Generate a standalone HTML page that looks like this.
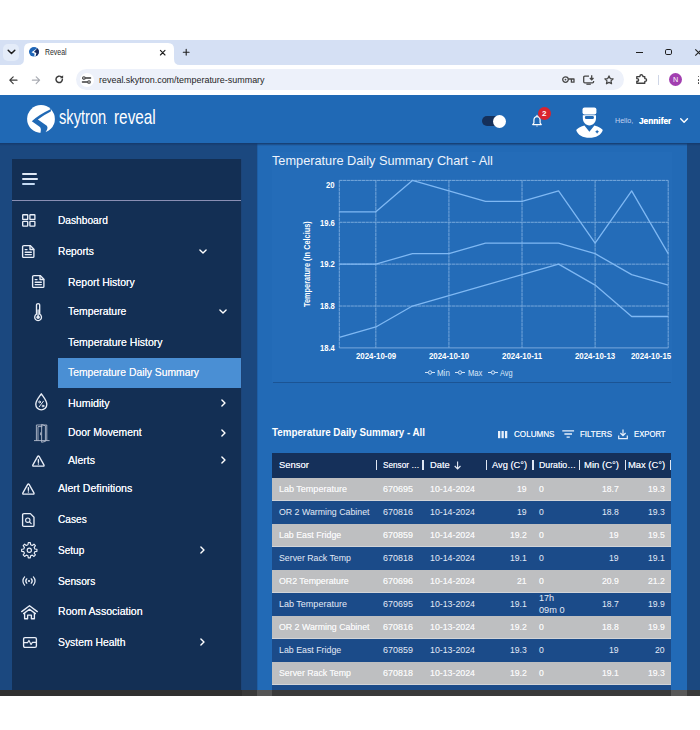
<!DOCTYPE html>
<html>
<head>
<meta charset="utf-8">
<title>Reveal</title>
<style>
*{box-sizing:border-box;margin:0;padding:0}
html,body{width:700px;height:730px;overflow:hidden;background:#fff;font-family:"Liberation Sans",sans-serif;}
.abs{position:absolute}
#root{position:relative;width:700px;height:730px;overflow:hidden;background:#fff}
.t{position:absolute;white-space:nowrap;color:#fff;line-height:1;transform-origin:0 50%;}
svg{overflow:visible}
</style>
</head>
<body>
<div id="root">
<div class="abs" style="left:0px;top:40px;width:700px;height:25px;background:#d5e0f4;"></div>
<div class="abs" style="left:0px;top:65px;width:700px;height:30px;background:#fff;"></div>
<div class="abs" style="left:0px;top:95px;width:700px;height:48px;background:#2069b5;"></div>
<div class="abs" style="left:0px;top:143px;width:700px;height:547px;background:#1b487f;"></div>
<div class="abs" style="left:11.6px;top:158.5px;width:230.2px;height:531.5px;background:#132f54;"></div>
<div class="abs" style="left:257px;top:143px;width:430px;height:547px;background:#226ab6;"></div>
<div class="abs" style="left:271.6px;top:152px;width:400px;height:230px;background:#246cb8;"></div>
<div class="abs" style="left:257px;top:143px;width:1px;height:547px;background:#1d5ea6;"></div>
<div class="abs" style="left:0px;top:143px;width:700px;height:3px;background:linear-gradient(#153a6c,rgba(21,58,108,0));"></div>
<div class="abs" style="left:0px;top:690px;width:700px;height:6px;background:#333;"></div>
<div class="abs" style="left:3px;top:44px;width:16px;height:17px;background:#e4ecf9;border-radius:5px"></div>
<svg class="abs" style="left:7px;top:49px;" width="9" height="6" viewBox="0 0 9 6"><path d="M1.2 1.2 L4.5 4.5 L7.8 1.2" fill="none" stroke="#1f1f1f" stroke-width="1.5" stroke-linecap="round" stroke-linejoin="round"/></svg>
<svg class="abs" style="left:18px;top:43px" width="164" height="22" viewBox="0 0 164 22"><path d="M0 22 Q6 22 6 16 L6 6 Q6 0 12 0 L150 0 Q156 0 156 6 L156 16 Q156 22 162 22 Z" fill="#fff"/></svg>
<svg class="abs" style="left:29.4px;top:47.2px;" width="10" height="9.6" viewBox="0 0 10 9.6"><ellipse cx="5" cy="4.8" rx="5" ry="4.8" fill="#1e66b8"/><path d="M8.3 1.2 L4.6 4.9 L7.2 6.2 L6.4 9.3 A5 4.8 0 0 0 8.3 1.2 Z" fill="#1a2c5e"/><path d="M8.5 1.1 L2.5 5.3 L5.6 6.8 L5.2 9.4 L6.6 8.9 L7.4 6.1 L4.9 4.9 Z" fill="#fff"/></svg>
<span class="t" style="left:45.00px;top:52.40px;font-size:8.8px;color:#2a2a2a;transform:translateY(-50%) scaleX(0.7885);">Reveal</span>
<svg class="abs" style="left:160px;top:49.5px;" width="5.4" height="5.4" viewBox="0 0 5.4 5.4"><path d="M0.4 0.4 L5 5 M5 0.4 L0.4 5" stroke="#1f1f1f" stroke-width="1.1" stroke-linecap="round"/></svg>
<svg class="abs" style="left:182.5px;top:49px;" width="6.4" height="6.4" viewBox="0 0 6.4 6.4"><path d="M3.2 0.3 V6.1 M0.3 3.2 H6.1" stroke="#1f1f1f" stroke-width="1.1" stroke-linecap="round"/></svg>
<div class="abs" style="left:636.4px;top:51.5px;width:6.2px;height:1.3px;background:#1f1f1f;"></div>
<div class="abs" style="left:665.3px;top:48.7px;width:6.8px;height:6.8px;background:transparent;border:1.4px solid #1f1f1f;border-radius:1.8px"></div>
<svg class="abs" style="left:694.5px;top:48.7px;" width="7" height="7" viewBox="0 0 7 7"><path d="M0.3 0.3 L6.7 6.7 M6.7 0.3 L0.3 6.7" stroke="#1f1f1f" stroke-width="1.1"/></svg>
<svg class="abs" style="left:8.8px;top:75.6px;" width="8.4" height="8.4" viewBox="0 0 8.4 8.4"><path d="M8 4.2 H1 M4.2 0.8 L0.8 4.2 L4.2 7.6" fill="none" stroke="#3c3c3c" stroke-width="1.2" stroke-linecap="round" stroke-linejoin="round"/></svg>
<svg class="abs" style="left:31.6px;top:75.6px;" width="8.4" height="8.4" viewBox="0 0 8.4 8.4"><path d="M0.4 4.2 H7.4 M4.2 0.8 L7.6 4.2 L4.2 7.6" fill="none" stroke="#a9acb3" stroke-width="1.2" stroke-linecap="round" stroke-linejoin="round"/></svg>
<svg class="abs" style="left:54.8px;top:75.2px;" width="8.6" height="8.6" viewBox="0 0 8.6 8.6"><path d="M7.4 4.3 A3.2 3.2 0 1 1 6.3 1.9" fill="none" stroke="#3c3c3c" stroke-width="1.45" stroke-linecap="round"/><path d="M8.1 0.2 V3.3 H5 Z" fill="#3c3c3c"/></svg>
<div class="abs" style="left:76px;top:69px;width:548px;height:21px;background:#edf1fa;border-radius:10.5px"></div>
<div class="abs" style="left:79.5px;top:73px;width:14px;height:14px;background:#fff;border-radius:7px"></div>
<svg class="abs" style="left:82px;top:75.6px;" width="9" height="8" viewBox="0 0 9 8"><path d="M3.6 2 H8.6 M0.4 6 H5.2" stroke="#3c3c3c" stroke-width="1.3" stroke-linecap="round"/><circle cx="1.9" cy="2" r="1.3" fill="none" stroke="#3c3c3c" stroke-width="1.1"/><circle cx="7" cy="6" r="1.3" fill="none" stroke="#3c3c3c" stroke-width="1.1"/></svg>
<span class="t" style="left:99.00px;top:80.00px;font-size:9.4px;color:#1f1f1f;transform:translateY(-50%) scaleX(0.9543);">reveal.skytron.com/temperature-summary</span>
<svg class="abs" style="left:562px;top:76px;" width="12.6" height="7.4" viewBox="0 0 12.6 7.4"><circle cx="3.5" cy="3.6" r="2.8" fill="none" stroke="#474747" stroke-width="1.3"/><circle cx="3.5" cy="3.6" r="0.9" fill="#474747"/><path d="M6.3 3 H12 V6.2 H9.4 V3.2" fill="none" stroke="#474747" stroke-width="1.3" stroke-linejoin="round"/></svg>
<svg class="abs" style="left:583.2px;top:74.8px;" width="11.4" height="9.8" viewBox="0 0 11.4 9.8"><path d="M6 1.2 H1.8 Q0.7 1.2 0.7 2.3 V6.7 Q0.7 7.8 1.8 7.8 H9.5 Q10.6 7.8 10.6 6.7 V6" fill="none" stroke="#474747" stroke-width="1.3"/><path d="M3.4 9.2 H7.8" stroke="#474747" stroke-width="1.3"/><path d="M8.7 0.2 V4.6 M6.9 3 L8.7 4.8 L10.5 3" fill="none" stroke="#474747" stroke-width="1.3"/></svg>
<svg class="abs" style="left:604.3px;top:75px;" width="10" height="9.6" viewBox="0 0 10 9.6"><path d="M5 0.9 L6.25 3.55 L9.15 3.9 L7.0 5.9 L7.55 8.75 L5 7.35 L2.45 8.75 L3.0 5.9 L0.85 3.9 L3.75 3.55 Z" fill="none" stroke="#474747" stroke-width="1.25" stroke-linejoin="round"/></svg>
<svg class="abs" style="left:636px;top:74.2px;" width="11.2" height="10" viewBox="0 0 11.2 10"><path d="M0.8 2.6 H3.9 V2.2 A1.5 1.5 0 0 1 6.9 2.2 V2.6 H8.8 V4.6 H9.2 A1.4 1.4 0 0 1 9.2 7.4 H8.8 V9.3 H0.8 V7.3 H1.3 A1.3 1.3 0 0 0 1.3 4.7 H0.8 Z" fill="none" stroke="#3f3f3f" stroke-width="1.35" stroke-linejoin="round"/></svg>
<div class="abs" style="left:658px;top:75px;width:1px;height:9.5px;background:#cfd6e6;"></div>
<div class="abs" style="left:669px;top:73.2px;width:13px;height:13px;background:#a23fb0;border-radius:50%"></div>
<span class="t" style="left:672.90px;top:79.80px;font-size:7.2px;color:#fff;transform:translateY(-50%) scaleX(1.0000);">N</span>
<div class="abs" style="left:697.8px;top:75.6px;width:1.6px;height:1.6px;background:#3c3c3c;border-radius:50%"></div>
<div class="abs" style="left:697.8px;top:79px;width:1.6px;height:1.6px;background:#3c3c3c;border-radius:50%"></div>
<div class="abs" style="left:697.8px;top:82.4px;width:1.6px;height:1.6px;background:#3c3c3c;border-radius:50%"></div>
<svg class="abs" style="left:26.7px;top:104.5px;" width="28" height="28" viewBox="0 0 28 28"><circle cx="14" cy="14" r="13.9" fill="#fff"/><path d="M24 4.0 Q12 9.6 4.8 16.2 L12.6 21.8 Q14.8 23.4 13.2 29 L17.4 28.8 Q22 23.2 19.8 20.8 L10.9 14.4 Q16 10.4 23.8 6.5 Z" fill="#2069b5"/></svg>
<span class="t" style="left:58.60px;top:117.40px;font-size:20.2px;color:#fff;transform:translateY(-50%) scaleX(0.7249);">skytron</span>
<span class="t" style="left:113.60px;top:117.40px;font-size:20.2px;color:#fff;transform:translateY(-50%) scaleX(0.7597);">reveal</span>
<div class="abs" style="left:106.3px;top:122.6px;width:1px;height:1px;background:#cfe0f5;"></div>
<div class="abs" style="left:481.5px;top:116.3px;width:23.5px;height:10px;background:#15305a;border-radius:5px"></div>
<div class="abs" style="left:492.5px;top:114.8px;width:13px;height:13px;background:#fff;border-radius:50%"></div>
<svg class="abs" style="left:532px;top:115px;" width="10" height="12.6" viewBox="0 0 10 12.6"><path d="M5 0.4 V1.6 M5 1.6 C3 1.6 1.9 3.2 1.9 5.2 V8 L0.7 9.6 H9.3 L8.1 8 V5.2 C8.1 3.2 7 1.6 5 1.6 Z" fill="none" stroke="#fff" stroke-width="1.2" stroke-linejoin="round" stroke-linecap="round"/><path d="M3.9 10.8 A1.2 1.2 0 0 0 6.1 10.8 Z" fill="#fff"/></svg>
<div class="abs" style="left:537.6px;top:107.4px;width:13px;height:13px;background:#d9232e;border-radius:50%"></div>
<span class="t" style="left:541.88px;top:114.00px;font-size:8px;color:#fff;font-weight:bold;transform:translateY(-50%) scaleX(1.0000);">2</span>
<svg class="abs" style="left:576.4px;top:107.4px;" width="27" height="31" viewBox="0 0 27 31"><rect x="6.5" y="0.5" width="13.9" height="7.1" rx="2" fill="#fff"/><path d="M6.8 8.2 H20 V11 C20 15.4 17 18.4 13.4 18.4 C9.8 18.4 6.8 15.4 6.8 11 Z" fill="#fff"/><rect x="8.9" y="9" width="9" height="3" rx="1.2" fill="#2069b5"/><path d="M8.4 18.4 C4 19.6 1 21.4 0.2 23 C1.5 28 7 30.8 13.4 30.8 C19.8 30.8 25.5 28 26.8 23 C26 21.4 23 19.6 18.4 18.4 L13.4 24.8 Z" fill="#fff"/><path d="M21.1 22.7 L21.8 24 L23.1 24.7 L21.8 25.4 L21.1 26.7 L20.4 25.4 L19.1 24.7 L20.4 24 Z" fill="#2069b5"/></svg>
<span class="t" style="left:615.30px;top:121.30px;font-size:8px;color:#c6d3ef;transform:translateY(-50%) scaleX(0.8898);">Hello,</span>
<span class="t" style="left:639.20px;top:121.10px;font-size:9.4px;color:#fff;font-weight:bold;transform:translateY(-50%) scaleX(0.8833);text-shadow:0 0 0.5px #fff;">Jennifer</span>
<svg class="abs" style="left:679.6px;top:118px;" width="8.2" height="5.2" viewBox="0 0 8.2 5.2"><path d="M0.7 0.8 L4.1 4.2 L7.5 0.8" fill="none" stroke="#fff" stroke-width="1.4" stroke-linecap="round" stroke-linejoin="round"/></svg>
<div class="abs" style="left:22px;top:173.2px;width:15.2px;height:1.6px;background:#dfe8f5;border-radius:1px"></div>
<div class="abs" style="left:22px;top:178.4px;width:16.2px;height:1.6px;background:#dfe8f5;border-radius:1px"></div>
<div class="abs" style="left:22px;top:183.3px;width:13.2px;height:1.8px;background:#c4daf3;border-radius:1px"></div>
<div class="abs" style="left:11.6px;top:199.6px;width:230.2px;height:1.5px;background:#8a8fb4;"></div>
<div class="abs" style="left:57.5px;top:357.7px;width:184px;height:30px;background:#4a8fd4;"></div>
<div class="abs" style="left:240.8px;top:158.5px;width:1px;height:531.5px;background:#1d4478;"></div>
<span class="t" style="left:57.80px;top:220.20px;font-size:11px;color:#f4f6fb;transform:translateY(-50%) scaleX(0.9254);text-shadow:0 0 0.4px #f4f6fb;">Dashboard</span>
<span class="t" style="left:57.80px;top:251.30px;font-size:11px;color:#f4f6fb;transform:translateY(-50%) scaleX(0.9295);text-shadow:0 0 0.4px #f4f6fb;">Reports</span>
<span class="t" style="left:67.70px;top:281.50px;font-size:11px;color:#f4f6fb;transform:translateY(-50%) scaleX(0.9488);text-shadow:0 0 0.4px #f4f6fb;">Report History</span>
<span class="t" style="left:67.70px;top:311.40px;font-size:11px;color:#f4f6fb;transform:translateY(-50%) scaleX(0.9457);text-shadow:0 0 0.4px #f4f6fb;">Temperature</span>
<span class="t" style="left:67.70px;top:341.50px;font-size:11px;color:#f4f6fb;transform:translateY(-50%) scaleX(0.9542);text-shadow:0 0 0.4px #f4f6fb;">Temperature History</span>
<span class="t" style="left:67.70px;top:372.30px;font-size:11px;color:#f4f6fb;transform:translateY(-50%) scaleX(0.9399);text-shadow:0 0 0.4px #f4f6fb;">Temperature Daily Summary</span>
<span class="t" style="left:67.70px;top:402.80px;font-size:11px;color:#f4f6fb;transform:translateY(-50%) scaleX(0.9746);text-shadow:0 0 0.4px #f4f6fb;">Humidity</span>
<span class="t" style="left:67.70px;top:432.40px;font-size:11px;color:#f4f6fb;transform:translateY(-50%) scaleX(0.9405);text-shadow:0 0 0.4px #f4f6fb;">Door Movement</span>
<span class="t" style="left:67.70px;top:460.00px;font-size:11px;color:#f4f6fb;transform:translateY(-50%) scaleX(0.9602);text-shadow:0 0 0.4px #f4f6fb;">Alerts</span>
<span class="t" style="left:57.80px;top:487.90px;font-size:11px;color:#f4f6fb;transform:translateY(-50%) scaleX(0.9645);text-shadow:0 0 0.4px #f4f6fb;">Alert Definitions</span>
<span class="t" style="left:57.80px;top:518.90px;font-size:11px;color:#f4f6fb;transform:translateY(-50%) scaleX(0.9205);text-shadow:0 0 0.4px #f4f6fb;">Cases</span>
<span class="t" style="left:57.80px;top:549.70px;font-size:11px;color:#f4f6fb;transform:translateY(-50%) scaleX(0.9149);text-shadow:0 0 0.4px #f4f6fb;">Setup</span>
<span class="t" style="left:57.80px;top:580.60px;font-size:11px;color:#f4f6fb;transform:translateY(-50%) scaleX(0.9243);text-shadow:0 0 0.4px #f4f6fb;">Sensors</span>
<span class="t" style="left:57.80px;top:610.80px;font-size:11px;color:#f4f6fb;transform:translateY(-50%) scaleX(0.9609);text-shadow:0 0 0.4px #f4f6fb;">Room Association</span>
<span class="t" style="left:57.80px;top:641.70px;font-size:11px;color:#f4f6fb;transform:translateY(-50%) scaleX(0.9423);text-shadow:0 0 0.4px #f4f6fb;">System Health</span>
<svg class="abs" style="left:198.5px;top:249.0px;" width="8" height="5.2" viewBox="0 0 8 5.2"><path d="M0.9 0.9 L4 4 L7.1 0.9" fill="none" stroke="#fff" stroke-width="1.4" stroke-linecap="round" stroke-linejoin="round"/></svg>
<svg class="abs" style="left:219px;top:309.4px;" width="8" height="5.2" viewBox="0 0 8 5.2"><path d="M0.9 0.9 L4 4 L7.1 0.9" fill="none" stroke="#fff" stroke-width="1.4" stroke-linecap="round" stroke-linejoin="round"/></svg>
<svg class="abs" style="left:220.8px;top:399.4px;" width="5.2" height="8" viewBox="0 0 5.2 8"><path d="M0.9 0.9 L4 4 L0.9 7.1" fill="none" stroke="#fff" stroke-width="1.4" stroke-linecap="round" stroke-linejoin="round"/></svg>
<svg class="abs" style="left:220.8px;top:429px;" width="5.2" height="8" viewBox="0 0 5.2 8"><path d="M0.9 0.9 L4 4 L0.9 7.1" fill="none" stroke="#fff" stroke-width="1.4" stroke-linecap="round" stroke-linejoin="round"/></svg>
<svg class="abs" style="left:220.8px;top:456.4px;" width="5.2" height="8" viewBox="0 0 5.2 8"><path d="M0.9 0.9 L4 4 L0.9 7.1" fill="none" stroke="#fff" stroke-width="1.4" stroke-linecap="round" stroke-linejoin="round"/></svg>
<svg class="abs" style="left:200.4px;top:546.2px;" width="5.2" height="8" viewBox="0 0 5.2 8"><path d="M0.9 0.9 L4 4 L0.9 7.1" fill="none" stroke="#fff" stroke-width="1.4" stroke-linecap="round" stroke-linejoin="round"/></svg>
<svg class="abs" style="left:200.4px;top:638px;" width="5.2" height="8" viewBox="0 0 5.2 8"><path d="M0.9 0.9 L4 4 L0.9 7.1" fill="none" stroke="#fff" stroke-width="1.4" stroke-linecap="round" stroke-linejoin="round"/></svg>
<svg class="abs" style="left:21.5px;top:214.3px;" width="13.6" height="12.8" viewBox="0 0 13.6 12.8"><g fill="none" stroke="#e9eef7" stroke-width="1.35" stroke-linejoin="round" stroke-linecap="round"><rect x="0.7" y="0.7" width="5" height="4.7" rx="0.5"/><rect x="7.9" y="0.7" width="5" height="4.7" rx="0.5"/><rect x="0.7" y="7.4" width="5" height="4.7" rx="0.5"/><rect x="7.9" y="7.4" width="5" height="4.7" rx="0.5"/></g></svg>
<svg class="abs" style="left:21.7px;top:245.2px;" width="12.5" height="13" viewBox="0 0 12.5 13"><g fill="none" stroke="#e9eef7" stroke-width="1.35" stroke-linejoin="round" stroke-linecap="round"><path d="M2 0.6 H8.2 L11.9 4.3 V11.4 Q11.9 12.4 10.9 12.4 H2 Q0.6 12.4 0.6 11.4 V1.6 Q0.6 0.6 2 0.6 Z"/><path d="M8 0.8 V4.5 H11.7"/><path d="M3.2 4.6 H5 M3.2 7.2 H9.3 M3.2 9.6 H9.3"/></g></svg>
<svg class="abs" style="left:32px;top:275.4px;" width="12.5" height="13" viewBox="0 0 12.5 13"><g fill="none" stroke="#e9eef7" stroke-width="1.35" stroke-linejoin="round" stroke-linecap="round"><path d="M2 0.6 H8.2 L11.9 4.3 V11.4 Q11.9 12.4 10.9 12.4 H2 Q0.6 12.4 0.6 11.4 V1.6 Q0.6 0.6 2 0.6 Z"/><path d="M8 0.8 V4.5 H11.7"/><path d="M3.2 4.6 H5 M3.2 7.2 H9.3 M3.2 9.6 H9.3"/></g></svg>
<svg class="abs" style="left:34.2px;top:303.2px;" width="8.2" height="18.4" viewBox="0 0 8.2 18.4"><g fill="none" stroke="#e9eef7" stroke-width="1.35" stroke-linejoin="round" stroke-linecap="round"><path d="M2.5 2.2 A1.6 1.6 0 0 1 5.7 2.2 V11.2 A3.4 3.4 0 1 1 2.5 11.2 Z"/><circle cx="4.1" cy="14.2" r="1.7" fill="#e9eef7" stroke="none"/><path d="M4.1 7 V13" stroke-width="1.3"/></g></svg>
<svg class="abs" style="left:34.6px;top:393.4px;" width="12.6" height="17.8" viewBox="0 0 12.6 17.8"><g fill="none" stroke="#e9eef7" stroke-width="1.35" stroke-linejoin="round" stroke-linecap="round"><path d="M6.3 0.8 C8.6 4.2 11.8 7.6 11.8 11.4 A5.5 5.5 0 0 1 0.8 11.4 C0.8 7.6 4 4.2 6.3 0.8 Z"/><g stroke-width="1"><circle cx="4.6" cy="9" r="0.9"/><circle cx="8" cy="13" r="0.9"/><path d="M8.4 8.2 L4.2 13.8"/></g></g></svg>
<svg class="abs" style="left:33.8px;top:424px;" width="15.6" height="18.6" viewBox="0 0 15.6 18.6"><g fill="none" stroke="#b4bccd" stroke-width="0.9" stroke-linejoin="round" stroke-linecap="round"><path d="M0.4 16.6 H15.2"/><path d="M2.4 16.4 V1 H12.8 V16.4"/><path d="M4 16.2 V2.6 H8"/><path d="M8 0.6 L11.4 1.8 V17.4 L8 18.2 Z"/><path d="M6.6 8.8 V10.8"/></g></svg>
<svg class="abs" style="left:31.6px;top:455.2px;" width="12.8" height="12" viewBox="0 0 12.8 12"><g fill="none" stroke="#e9eef7" stroke-width="1.35" stroke-linejoin="round" stroke-linecap="round"><path d="M5.7 1.4 Q6.4 0.3 7.1 1.4 L11.9 9.8 Q12.5 11.2 11.1 11.2 H1.7 Q0.3 11.2 0.9 9.8 Z"/><path d="M6.4 4.6 V7.2 M6.4 9 V9.1" stroke-width="1.4"/></g></svg>
<svg class="abs" style="left:21.6px;top:483px;" width="12.8" height="12" viewBox="0 0 12.8 12"><g fill="none" stroke="#e9eef7" stroke-width="1.35" stroke-linejoin="round" stroke-linecap="round"><path d="M5.7 1.4 Q6.4 0.3 7.1 1.4 L11.9 9.8 Q12.5 11.2 11.1 11.2 H1.7 Q0.3 11.2 0.9 9.8 Z"/><path d="M6.4 4.6 V7.2 M6.4 9 V9.1" stroke-width="1.4"/></g></svg>
<svg class="abs" style="left:21.6px;top:512.8px;" width="12.6" height="14" viewBox="0 0 12.6 14"><g fill="none" stroke="#e9eef7" stroke-width="1.35" stroke-linejoin="round" stroke-linecap="round"><path d="M2 0.6 H8.4 L12 4.2 V12.2 Q12 13.4 10.8 13.4 H2 Q0.6 13.4 0.6 12.2 V1.8 Q0.6 0.6 2 0.6 Z"/><circle cx="5.8" cy="7.2" r="2.2" stroke-width="1.1"/><path d="M7.5 8.9 L9.2 10.6" stroke-width="1.2"/></g></svg>
<svg class="abs" style="left:21.3px;top:542.2px;" width="16.6" height="16.6" viewBox="0 0 16.6 16.6"><g fill="none" stroke="#e9eef7" stroke-width="1.35" stroke-linejoin="round" stroke-linecap="round"><path d="M6.97 2.76 L7.27 0.67 L9.33 0.67 L9.63 2.76 L11.28 3.44 L12.97 2.18 L14.42 3.63 L13.16 5.32 L13.84 6.97 L15.93 7.27 L15.93 9.33 L13.84 9.63 L13.16 11.28 L14.42 12.97 L12.97 14.42 L11.28 13.16 L9.63 13.84 L9.33 15.93 L7.27 15.93 L6.97 13.84 L5.32 13.16 L3.63 14.42 L2.18 12.97 L3.44 11.28 L2.76 9.63 L0.67 9.33 L0.67 7.27 L2.76 6.97 L3.44 5.32 L2.18 3.63 L3.63 2.18 L5.32 3.44 Z" stroke-width="1.15"/><circle cx="8.3" cy="8.3" r="2.1" stroke-width="1.15"/></g></svg>
<svg class="abs" style="left:22.4px;top:575.6px;" width="14" height="10" viewBox="0 0 14 10"><g fill="none" stroke="#e9eef7" stroke-width="1.35" stroke-linejoin="round" stroke-linecap="round"><circle cx="7" cy="5" r="1.1" fill="#e9eef7" stroke="none"/><path d="M4.8 2.8 A3.2 3.2 0 0 0 4.8 7.2 M9.2 2.8 A3.2 3.2 0 0 1 9.2 7.2" stroke-width="1.25"/><path d="M2.6 0.9 A5.9 5.9 0 0 0 2.6 9.1 M11.4 0.9 A5.9 5.9 0 0 1 11.4 9.1" stroke-width="1.25"/></g></svg>
<svg class="abs" style="left:21.2px;top:605px;" width="17" height="14.6" viewBox="0 0 17 14.6"><g fill="none" stroke="#e9eef7" stroke-width="1.35" stroke-linejoin="round" stroke-linecap="round"><path d="M0.7 6.6 L8.5 0.7 L16.3 6.6"/><path d="M2.6 8.6 L8.5 4.2 L14.4 8.6"/><path d="M3.6 8.4 V13.8 H6.6 V10.2 H10.4 V13.8 H13.4 V8.4"/></g></svg>
<svg class="abs" style="left:22.6px;top:636.8px;" width="14" height="11" viewBox="0 0 14 11"><g fill="none" stroke="#e9eef7" stroke-width="1.35" stroke-linejoin="round" stroke-linecap="round"><path d="M2 0.6 H12 Q13.4 0.6 13.4 2 V9 Q13.4 10.4 12 10.4 H2 Q0.6 10.4 0.6 9 V2 Q0.6 0.6 2 0.6 Z"/><path d="M0.8 5.6 H4.6 L6 3.4 L8 7.6 L9.4 5.4 H13.2" stroke-width="1.1"/></g></svg>
<span class="t" style="left:271.90px;top:160.80px;font-size:13.4px;color:#eef4fc;transform:translateY(-50%) scaleX(0.9512);">Temperature Daily Summary Chart - All</span>
<svg class="abs" style="left:0;top:0" width="700" height="400" viewBox="0 0 700 400"><path d="M339.3 180.40 H668.2" stroke="#78a9dc" stroke-width="1" stroke-dasharray="3.3 0.45" fill="none"/><path d="M339.3 222.27 H668.2" stroke="#78a9dc" stroke-width="1" stroke-dasharray="3.3 0.45" fill="none"/><path d="M339.3 264.15 H668.2" stroke="#78a9dc" stroke-width="1" stroke-dasharray="3.3 0.45" fill="none"/><path d="M339.3 306.02 H668.2" stroke="#78a9dc" stroke-width="1" stroke-dasharray="3.3 0.45" fill="none"/><path d="M339.3 347.9 H668.2" stroke="#78a9dc" stroke-width="1" fill="none"/><path d="M339.30 180.4 V347.9" stroke="#78a9dc" stroke-width="1" stroke-dasharray="3.3 0.45" fill="none"/><path d="M375.84 180.4 V347.9" stroke="#78a9dc" stroke-width="1" stroke-dasharray="3.3 0.45" fill="none"/><path d="M448.93 180.4 V347.9" stroke="#78a9dc" stroke-width="1" stroke-dasharray="3.3 0.45" fill="none"/><path d="M522.02 180.4 V347.9" stroke="#78a9dc" stroke-width="1" stroke-dasharray="3.3 0.45" fill="none"/><path d="M595.11 180.4 V347.9" stroke="#78a9dc" stroke-width="1" stroke-dasharray="3.3 0.45" fill="none"/><path d="M668.20 180.4 V347.9" stroke="#78a9dc" stroke-width="1" stroke-dasharray="3.3 0.45" fill="none"/><path d="M339.30 211.81 L375.84 211.81 L412.39 180.40 L448.93 190.87 L485.48 201.34 L522.02 201.34 L558.57 190.87 L595.11 243.21 L631.66 190.87 L668.20 253.68" stroke="#7fb8f3" stroke-width="1.3" fill="none" stroke-linejoin="round"/><path d="M339.30 264.15 L375.84 264.15 L412.39 253.68 L448.93 253.68 L485.48 243.21 L522.02 243.21 L558.57 243.21 L595.11 253.68 L631.66 274.62 L668.20 285.09" stroke="#7fb8f3" stroke-width="1.3" fill="none" stroke-linejoin="round"/><path d="M339.30 337.43 L375.84 326.96 L412.39 306.02 L448.93 295.56 L485.48 285.09 L522.02 274.62 L558.57 264.15 L595.11 285.09 L631.66 316.49 L668.20 316.49" stroke="#7fb8f3" stroke-width="1.3" fill="none" stroke-linejoin="round"/></svg>
<span class="t" style="left:325.80px;top:185.00px;font-size:8.4px;color:#fff;font-weight:bold;transform:translateY(-50%) scaleX(0.9204);">20</span>
<span class="t" style="left:319.50px;top:222.57px;font-size:8.4px;color:#fff;font-weight:bold;transform:translateY(-50%) scaleX(0.9114);">19.6</span>
<span class="t" style="left:319.50px;top:264.45px;font-size:8.4px;color:#fff;font-weight:bold;transform:translateY(-50%) scaleX(0.9114);">19.2</span>
<span class="t" style="left:319.50px;top:306.32px;font-size:8.4px;color:#fff;font-weight:bold;transform:translateY(-50%) scaleX(0.9114);">18.8</span>
<span class="t" style="left:319.50px;top:348.20px;font-size:8.4px;color:#fff;font-weight:bold;transform:translateY(-50%) scaleX(0.9114);">18.4</span>
<span class="t" style="left:259.53px;top:260.10px;font-size:8.2px;font-weight:bold;transform-origin:50% 50%;transform:rotate(-90deg) scaleX(0.9002);">Temperature (In Celcius)</span>
<span class="t" style="left:355.94px;top:356.20px;font-size:8.5px;color:#fff;font-weight:bold;transform:translateY(-50%) scaleX(0.9245);">2024-10-09</span>
<span class="t" style="left:429.03px;top:356.20px;font-size:8.5px;color:#fff;font-weight:bold;transform:translateY(-50%) scaleX(0.9245);">2024-10-10</span>
<span class="t" style="left:502.12px;top:356.20px;font-size:8.5px;color:#fff;font-weight:bold;transform:translateY(-50%) scaleX(0.9346);">2024-10-11</span>
<span class="t" style="left:575.21px;top:356.20px;font-size:8.5px;color:#fff;font-weight:bold;transform:translateY(-50%) scaleX(0.9245);">2024-10-13</span>
<span class="t" style="left:631.00px;top:356.20px;font-size:8.5px;color:#fff;font-weight:bold;transform:translateY(-50%) scaleX(0.9245);">2024-10-15</span>
<svg class="abs" style="left:424.6px;top:370.4px;" width="10" height="5" viewBox="0 0 10 5"><path d="M0 2.5 H10" stroke="#cfe2f7" stroke-width="1"/><circle cx="5" cy="2.5" r="1.7" fill="#236bb7" stroke="#cfe2f7" stroke-width="1"/></svg>
<span class="t" style="left:436.70px;top:372.90px;font-size:8.3px;color:#dbe8f8;transform:translateY(-50%) scaleX(0.9570);">Min</span>
<svg class="abs" style="left:455.4px;top:370.4px;" width="10" height="5" viewBox="0 0 10 5"><path d="M0 2.5 H10" stroke="#cfe2f7" stroke-width="1"/><circle cx="5" cy="2.5" r="1.7" fill="#236bb7" stroke="#cfe2f7" stroke-width="1"/></svg>
<span class="t" style="left:467.50px;top:372.90px;font-size:8.3px;color:#dbe8f8;transform:translateY(-50%) scaleX(0.9183);">Max</span>
<svg class="abs" style="left:488px;top:370.4px;" width="10" height="5" viewBox="0 0 10 5"><path d="M0 2.5 H10" stroke="#cfe2f7" stroke-width="1"/><circle cx="5" cy="2.5" r="1.7" fill="#236bb7" stroke="#cfe2f7" stroke-width="1"/></svg>
<span class="t" style="left:500.10px;top:372.90px;font-size:8.3px;color:#dbe8f8;transform:translateY(-50%) scaleX(0.8903);">Avg</span>
<div class="abs" style="left:273px;top:381.6px;width:398px;height:1px;background:#1b5494;"></div>
<span class="t" style="left:272.30px;top:433.20px;font-size:10.4px;color:#fff;font-weight:bold;transform:translateY(-50%) scaleX(0.9433);">Temperature Daily Summary - All</span>
<svg class="abs" style="left:498.4px;top:430.6px;" width="9.4" height="7.2" viewBox="0 0 9.4 7.2"><rect x="0" y="0" width="2.3" height="7.2" fill="#e8f0fb"/><rect x="3.5" y="0" width="2.3" height="7.2" fill="#e8f0fb"/><rect x="7" y="0" width="2.3" height="7.2" fill="#e8f0fb"/></svg>
<span class="t" style="left:514.20px;top:434.40px;font-size:8.4px;color:#e8f0fb;transform:translateY(-50%) scaleX(0.9665);text-shadow:0 0 0.4px #e8f0fb;">COLUMNS</span>
<svg class="abs" style="left:562px;top:430.4px;" width="12.4" height="8" viewBox="0 0 12.4 8"><path d="M0.3 0.8 H12.1 M2.4 4 H10 M4.6 7.2 H7.8" stroke="#e8f0fb" stroke-width="1.3" fill="none"/></svg>
<span class="t" style="left:580.20px;top:434.40px;font-size:8.4px;color:#e8f0fb;transform:translateY(-50%) scaleX(0.9435);text-shadow:0 0 0.4px #e8f0fb;">FILTERS</span>
<svg class="abs" style="left:618px;top:429.2px;" width="10" height="10.4" viewBox="0 0 10 10.4"><path d="M5 0.4 V6.4 M2.4 4 L5 6.6 L7.6 4" stroke="#e8f0fb" stroke-width="1.2" fill="none"/><path d="M0.7 6.6 V9.6 H9.3 V6.6" stroke="#e8f0fb" stroke-width="1.2" fill="none"/></svg>
<span class="t" style="left:633.60px;top:434.40px;font-size:8.4px;color:#e8f0fb;transform:translateY(-50%) scaleX(0.9189);text-shadow:0 0 0.4px #e8f0fb;">EXPORT</span>
<div class="abs" style="left:272.4px;top:452.8px;width:398.80000000000007px;height:25.2px;background:#15305a;"></div>
<span class="t" style="left:278.80px;top:465.20px;font-size:9.8px;color:#e6ebf5;transform:translateY(-50%) scaleX(0.9661);text-shadow:0 0 0.4px #e6ebf5;">Sensor</span>
<span class="t" style="left:383.00px;top:465.20px;font-size:9.8px;color:#e6ebf5;transform:translateY(-50%) scaleX(0.8353);text-shadow:0 0 0.4px #e6ebf5;">Sensor …</span>
<span class="t" style="left:429.80px;top:465.20px;font-size:9.8px;color:#e6ebf5;transform:translateY(-50%) scaleX(0.9565);text-shadow:0 0 0.4px #e6ebf5;">Date</span>
<svg class="abs" style="left:454.4px;top:460.6px;" width="7.2" height="8.8" viewBox="0 0 7.2 8.8"><path d="M3.6 0.6 V7.8 M0.7 5 L3.6 7.9 L6.5 5" stroke="#e6ebf5" stroke-width="1.1" fill="none"/></svg>
<span class="t" style="left:491.60px;top:465.20px;font-size:9.8px;color:#e6ebf5;transform:translateY(-50%) scaleX(0.9470);text-shadow:0 0 0.4px #e6ebf5;">Avg (C°)</span>
<span class="t" style="left:539.40px;top:465.20px;font-size:9.8px;color:#e6ebf5;transform:translateY(-50%) scaleX(0.8939);text-shadow:0 0 0.4px #e6ebf5;">Duratio…</span>
<span class="t" style="left:584.00px;top:465.20px;font-size:9.8px;color:#e6ebf5;transform:translateY(-50%) scaleX(0.9712);text-shadow:0 0 0.4px #e6ebf5;">Min (C°)</span>
<span class="t" style="left:628.00px;top:465.20px;font-size:9.8px;color:#e6ebf5;transform:translateY(-50%) scaleX(0.9597);text-shadow:0 0 0.4px #e6ebf5;">Max (C°)</span>
<div class="abs" style="left:375.6px;top:460.4px;width:1.4px;height:9.6px;background:#dfe6f2;"></div>
<div class="abs" style="left:422.2px;top:460.4px;width:1.4px;height:9.6px;background:#dfe6f2;"></div>
<div class="abs" style="left:485.8px;top:460.4px;width:1.4px;height:9.6px;background:#dfe6f2;"></div>
<div class="abs" style="left:532.4px;top:460.4px;width:1.4px;height:9.6px;background:#dfe6f2;"></div>
<div class="abs" style="left:578.6px;top:460.4px;width:1.4px;height:9.6px;background:#dfe6f2;"></div>
<div class="abs" style="left:625px;top:460.4px;width:1.4px;height:9.6px;background:#dfe6f2;"></div>
<div class="abs" style="left:670px;top:460.4px;width:1.4px;height:9.6px;background:#dfe6f2;"></div>
<div class="abs" style="left:272.4px;top:477.9px;width:398.80000000000007px;height:23.027777777777786px;background:#bebfc1;"></div>
<div class="abs" style="left:272.4px;top:499.87777777777774px;width:398.80000000000007px;height:1px;background:#d2d4d8;"></div>
<span class="t" style="left:278.80px;top:489.39px;font-size:9.7px;color:#f6f6f7;transform:translateY(-50%) scaleX(0.9295);text-shadow:0 0 0.35px #f6f6f7;">Lab Temperature</span>
<span class="t" style="left:383.00px;top:489.39px;font-size:9.7px;color:#f6f6f7;transform:translateY(-50%) scaleX(0.9237);text-shadow:0 0 0.35px #f6f6f7;">670695</span>
<span class="t" style="left:429.80px;top:489.39px;font-size:9.7px;color:#f6f6f7;transform:translateY(-50%) scaleX(0.9069);text-shadow:0 0 0.35px #f6f6f7;">10-14-2024</span>
<span class="t" style="left:516.70px;top:489.39px;font-size:9.7px;color:#f6f6f7;transform:translateY(-50%) scaleX(0.8900);text-shadow:0 0 0.35px #f6f6f7;">19</span>
<span class="t" style="left:539.40px;top:489.39px;font-size:9.7px;color:#f6f6f7;transform:translateY(-50%) scaleX(0.8900);text-shadow:0 0 0.35px #f6f6f7;">0</span>
<span class="t" style="left:601.80px;top:489.39px;font-size:9.7px;color:#f6f6f7;transform:translateY(-50%) scaleX(0.8900);text-shadow:0 0 0.35px #f6f6f7;">18.7</span>
<span class="t" style="left:648.00px;top:489.39px;font-size:9.7px;color:#f6f6f7;transform:translateY(-50%) scaleX(0.8900);text-shadow:0 0 0.35px #f6f6f7;">19.3</span>
<div class="abs" style="left:272.4px;top:500.87777777777774px;width:398.80000000000007px;height:23.027777777777786px;background:#1b4b89;"></div>
<span class="t" style="left:278.80px;top:512.37px;font-size:9.7px;color:#e3eaf6;transform:translateY(-50%) scaleX(0.9068);">OR 2 Warming Cabinet</span>
<span class="t" style="left:383.00px;top:512.37px;font-size:9.7px;color:#e3eaf6;transform:translateY(-50%) scaleX(0.9237);">670816</span>
<span class="t" style="left:429.80px;top:512.37px;font-size:9.7px;color:#e3eaf6;transform:translateY(-50%) scaleX(0.9069);">10-14-2024</span>
<span class="t" style="left:516.70px;top:512.37px;font-size:9.7px;color:#e3eaf6;transform:translateY(-50%) scaleX(0.8900);">19</span>
<span class="t" style="left:539.40px;top:512.37px;font-size:9.7px;color:#e3eaf6;transform:translateY(-50%) scaleX(0.8900);">0</span>
<span class="t" style="left:601.80px;top:512.37px;font-size:9.7px;color:#e3eaf6;transform:translateY(-50%) scaleX(0.8900);">18.8</span>
<span class="t" style="left:648.00px;top:512.37px;font-size:9.7px;color:#e3eaf6;transform:translateY(-50%) scaleX(0.8900);">19.3</span>
<div class="abs" style="left:272.4px;top:523.8555555555555px;width:398.80000000000007px;height:23.027777777777786px;background:#bebfc1;"></div>
<div class="abs" style="left:272.4px;top:545.8333333333333px;width:398.80000000000007px;height:1px;background:#d2d4d8;"></div>
<span class="t" style="left:278.80px;top:535.34px;font-size:9.7px;color:#f6f6f7;transform:translateY(-50%) scaleX(0.9098);text-shadow:0 0 0.35px #f6f6f7;">Lab East Fridge</span>
<span class="t" style="left:383.00px;top:535.34px;font-size:9.7px;color:#f6f6f7;transform:translateY(-50%) scaleX(0.9237);text-shadow:0 0 0.35px #f6f6f7;">670859</span>
<span class="t" style="left:429.80px;top:535.34px;font-size:9.7px;color:#f6f6f7;transform:translateY(-50%) scaleX(0.9069);text-shadow:0 0 0.35px #f6f6f7;">10-14-2024</span>
<span class="t" style="left:509.50px;top:535.34px;font-size:9.7px;color:#f6f6f7;transform:translateY(-50%) scaleX(0.8900);text-shadow:0 0 0.35px #f6f6f7;">19.2</span>
<span class="t" style="left:539.40px;top:535.34px;font-size:9.7px;color:#f6f6f7;transform:translateY(-50%) scaleX(0.8900);text-shadow:0 0 0.35px #f6f6f7;">0</span>
<span class="t" style="left:609.00px;top:535.34px;font-size:9.7px;color:#f6f6f7;transform:translateY(-50%) scaleX(0.8900);text-shadow:0 0 0.35px #f6f6f7;">19</span>
<span class="t" style="left:648.00px;top:535.34px;font-size:9.7px;color:#f6f6f7;transform:translateY(-50%) scaleX(0.8900);text-shadow:0 0 0.35px #f6f6f7;">19.5</span>
<div class="abs" style="left:272.4px;top:546.8333333333334px;width:398.80000000000007px;height:23.027777777777786px;background:#1b4b89;"></div>
<span class="t" style="left:278.80px;top:558.32px;font-size:9.7px;color:#e3eaf6;transform:translateY(-50%) scaleX(0.9045);">Server Rack Temp</span>
<span class="t" style="left:383.00px;top:558.32px;font-size:9.7px;color:#e3eaf6;transform:translateY(-50%) scaleX(0.9237);">670818</span>
<span class="t" style="left:429.80px;top:558.32px;font-size:9.7px;color:#e3eaf6;transform:translateY(-50%) scaleX(0.9069);">10-14-2024</span>
<span class="t" style="left:509.50px;top:558.32px;font-size:9.7px;color:#e3eaf6;transform:translateY(-50%) scaleX(0.8900);">19.1</span>
<span class="t" style="left:539.40px;top:558.32px;font-size:9.7px;color:#e3eaf6;transform:translateY(-50%) scaleX(0.8900);">0</span>
<span class="t" style="left:609.00px;top:558.32px;font-size:9.7px;color:#e3eaf6;transform:translateY(-50%) scaleX(0.8900);">19</span>
<span class="t" style="left:648.00px;top:558.32px;font-size:9.7px;color:#e3eaf6;transform:translateY(-50%) scaleX(0.8900);">19.1</span>
<div class="abs" style="left:272.4px;top:569.8111111111111px;width:398.80000000000007px;height:23.027777777777786px;background:#bebfc1;"></div>
<div class="abs" style="left:272.4px;top:591.7888888888889px;width:398.80000000000007px;height:1px;background:#d2d4d8;"></div>
<span class="t" style="left:278.80px;top:581.30px;font-size:9.7px;color:#f6f6f7;transform:translateY(-50%) scaleX(0.9074);text-shadow:0 0 0.35px #f6f6f7;">OR2 Temperature</span>
<span class="t" style="left:383.00px;top:581.30px;font-size:9.7px;color:#f6f6f7;transform:translateY(-50%) scaleX(0.9237);text-shadow:0 0 0.35px #f6f6f7;">670696</span>
<span class="t" style="left:429.80px;top:581.30px;font-size:9.7px;color:#f6f6f7;transform:translateY(-50%) scaleX(0.9069);text-shadow:0 0 0.35px #f6f6f7;">10-14-2024</span>
<span class="t" style="left:516.70px;top:581.30px;font-size:9.7px;color:#f6f6f7;transform:translateY(-50%) scaleX(0.8900);text-shadow:0 0 0.35px #f6f6f7;">21</span>
<span class="t" style="left:539.40px;top:581.30px;font-size:9.7px;color:#f6f6f7;transform:translateY(-50%) scaleX(0.8900);text-shadow:0 0 0.35px #f6f6f7;">0</span>
<span class="t" style="left:601.80px;top:581.30px;font-size:9.7px;color:#f6f6f7;transform:translateY(-50%) scaleX(0.8900);text-shadow:0 0 0.35px #f6f6f7;">20.9</span>
<span class="t" style="left:648.00px;top:581.30px;font-size:9.7px;color:#f6f6f7;transform:translateY(-50%) scaleX(0.8900);text-shadow:0 0 0.35px #f6f6f7;">21.2</span>
<div class="abs" style="left:272.4px;top:592.7888888888889px;width:398.80000000000007px;height:23.027777777777786px;background:#1b4b89;"></div>
<span class="t" style="left:278.80px;top:604.28px;font-size:9.7px;color:#e3eaf6;transform:translateY(-50%) scaleX(0.9295);">Lab Temperature</span>
<span class="t" style="left:383.00px;top:604.28px;font-size:9.7px;color:#e3eaf6;transform:translateY(-50%) scaleX(0.9237);">670695</span>
<span class="t" style="left:429.80px;top:604.28px;font-size:9.7px;color:#e3eaf6;transform:translateY(-50%) scaleX(0.9069);">10-13-2024</span>
<span class="t" style="left:509.50px;top:604.28px;font-size:9.7px;color:#e3eaf6;transform:translateY(-50%) scaleX(0.8900);">19.1</span>
<span class="t" style="left:539.40px;top:597.90px;font-size:9.7px;color:#e3eaf6;transform:translateY(-50%) scaleX(0.9330);">17h</span>
<span class="t" style="left:539.40px;top:610.20px;font-size:9.7px;color:#e3eaf6;transform:translateY(-50%) scaleX(0.9496);">09m 0</span>
<span class="t" style="left:601.80px;top:604.28px;font-size:9.7px;color:#e3eaf6;transform:translateY(-50%) scaleX(0.8900);">18.7</span>
<span class="t" style="left:648.00px;top:604.28px;font-size:9.7px;color:#e3eaf6;transform:translateY(-50%) scaleX(0.8900);">19.9</span>
<div class="abs" style="left:272.4px;top:615.7666666666667px;width:398.80000000000007px;height:23.027777777777786px;background:#bebfc1;"></div>
<div class="abs" style="left:272.4px;top:637.7444444444444px;width:398.80000000000007px;height:1px;background:#d2d4d8;"></div>
<span class="t" style="left:278.80px;top:627.26px;font-size:9.7px;color:#f6f6f7;transform:translateY(-50%) scaleX(0.9068);text-shadow:0 0 0.35px #f6f6f7;">OR 2 Warming Cabinet</span>
<span class="t" style="left:383.00px;top:627.26px;font-size:9.7px;color:#f6f6f7;transform:translateY(-50%) scaleX(0.9237);text-shadow:0 0 0.35px #f6f6f7;">670816</span>
<span class="t" style="left:429.80px;top:627.26px;font-size:9.7px;color:#f6f6f7;transform:translateY(-50%) scaleX(0.9069);text-shadow:0 0 0.35px #f6f6f7;">10-13-2024</span>
<span class="t" style="left:509.50px;top:627.26px;font-size:9.7px;color:#f6f6f7;transform:translateY(-50%) scaleX(0.8900);text-shadow:0 0 0.35px #f6f6f7;">19.2</span>
<span class="t" style="left:539.40px;top:627.26px;font-size:9.7px;color:#f6f6f7;transform:translateY(-50%) scaleX(0.8900);text-shadow:0 0 0.35px #f6f6f7;">0</span>
<span class="t" style="left:601.80px;top:627.26px;font-size:9.7px;color:#f6f6f7;transform:translateY(-50%) scaleX(0.8900);text-shadow:0 0 0.35px #f6f6f7;">18.8</span>
<span class="t" style="left:648.00px;top:627.26px;font-size:9.7px;color:#f6f6f7;transform:translateY(-50%) scaleX(0.8900);text-shadow:0 0 0.35px #f6f6f7;">19.9</span>
<div class="abs" style="left:272.4px;top:638.7444444444445px;width:398.80000000000007px;height:23.027777777777786px;background:#1b4b89;"></div>
<span class="t" style="left:278.80px;top:650.23px;font-size:9.7px;color:#e3eaf6;transform:translateY(-50%) scaleX(0.9098);">Lab East Fridge</span>
<span class="t" style="left:383.00px;top:650.23px;font-size:9.7px;color:#e3eaf6;transform:translateY(-50%) scaleX(0.9237);">670859</span>
<span class="t" style="left:429.80px;top:650.23px;font-size:9.7px;color:#e3eaf6;transform:translateY(-50%) scaleX(0.9069);">10-13-2024</span>
<span class="t" style="left:509.50px;top:650.23px;font-size:9.7px;color:#e3eaf6;transform:translateY(-50%) scaleX(0.8900);">19.3</span>
<span class="t" style="left:539.40px;top:650.23px;font-size:9.7px;color:#e3eaf6;transform:translateY(-50%) scaleX(0.8900);">0</span>
<span class="t" style="left:609.00px;top:650.23px;font-size:9.7px;color:#e3eaf6;transform:translateY(-50%) scaleX(0.8900);">19</span>
<span class="t" style="left:655.20px;top:650.23px;font-size:9.7px;color:#e3eaf6;transform:translateY(-50%) scaleX(0.8900);">20</span>
<div class="abs" style="left:272.4px;top:661.7222222222223px;width:398.80000000000007px;height:23.027777777777786px;background:#bebfc1;"></div>
<div class="abs" style="left:272.4px;top:683.7px;width:398.80000000000007px;height:1px;background:#d2d4d8;"></div>
<span class="t" style="left:278.80px;top:673.21px;font-size:9.7px;color:#f6f6f7;transform:translateY(-50%) scaleX(0.9045);text-shadow:0 0 0.35px #f6f6f7;">Server Rack Temp</span>
<span class="t" style="left:383.00px;top:673.21px;font-size:9.7px;color:#f6f6f7;transform:translateY(-50%) scaleX(0.9237);text-shadow:0 0 0.35px #f6f6f7;">670818</span>
<span class="t" style="left:429.80px;top:673.21px;font-size:9.7px;color:#f6f6f7;transform:translateY(-50%) scaleX(0.9069);text-shadow:0 0 0.35px #f6f6f7;">10-13-2024</span>
<span class="t" style="left:509.50px;top:673.21px;font-size:9.7px;color:#f6f6f7;transform:translateY(-50%) scaleX(0.8900);text-shadow:0 0 0.35px #f6f6f7;">19.2</span>
<span class="t" style="left:539.40px;top:673.21px;font-size:9.7px;color:#f6f6f7;transform:translateY(-50%) scaleX(0.8900);text-shadow:0 0 0.35px #f6f6f7;">0</span>
<span class="t" style="left:601.80px;top:673.21px;font-size:9.7px;color:#f6f6f7;transform:translateY(-50%) scaleX(0.8900);text-shadow:0 0 0.35px #f6f6f7;">19.1</span>
<span class="t" style="left:648.00px;top:673.21px;font-size:9.7px;color:#f6f6f7;transform:translateY(-50%) scaleX(0.8900);text-shadow:0 0 0.35px #f6f6f7;">19.3</span>
<div class="abs" style="left:272.4px;top:684.7px;width:398.80000000000007px;height:5.4px;background:#1b4b89;"></div>
<div class="abs" style="left:0px;top:690px;width:700px;height:6px;background:#303030;"></div>
<div class="abs" style="left:242px;top:690px;width:15px;height:6px;background:#3a3a3a;"></div>
<div class="abs" style="left:257px;top:690px;width:15.4px;height:6px;background:#555;"></div>
<div class="abs" style="left:272.4px;top:690px;width:399px;height:6px;background:#3a3a3a;"></div>
<div class="abs" style="left:671.2px;top:690px;width:15.6px;height:6px;background:#585858;"></div>
<div class="abs" style="left:686.8px;top:690px;width:14px;height:6px;background:#3a3a3a;"></div>
</div>
</body>
</html>
